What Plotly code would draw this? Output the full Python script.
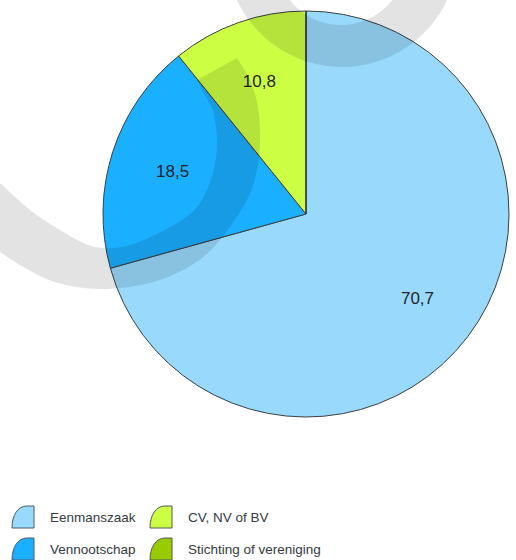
"""
Rechtsvorm — taartdiagram met watermerk en eigen legenda.
"""

import plotly.graph_objects as go

# ── Data ──────────────────────────────────────────────────────────────────
labels = ['Eenmanszaak', 'Vennootschap', 'CV, NV of BV', 'Stichting of vereniging']
values = [70.7, 18.5, 10.8, 0.0]
slice_text = [f'{v:.1f}'.replace('.', ',') if v > 0 else '' for v in values]

# ── Design tokens ─────────────────────────────────────────────────────────
C = {
    'slices': ['#99DAFC', '#1AB0FF', '#CCFF44', '#99CC00'],
    'edge': '#3a3f44',
    'legend_edge': '#4d5a66',
    'text': '#1e252b',
    'legend_text': '#333a40',
    'mark': 'rgba(0,0,0,0.11)',
}
FONT = 'Liberation Sans, Arial, sans-serif'

W, H = 516, 560
CX, CY, R = 306, 214, 203  # pie centre / radius in pixels


def domain(r):
    return dict(x=[(CX - r) / W, (CX + r) / W], y=[1 - (CY + r) / H, 1 - (CY - r) / H])


def smooth(pts):
    """Catmull-Rom through pts -> cubic bezier segments (no leading M)."""
    p = [pts[0]] + pts + [pts[-1]]
    out = []
    for i in range(1, len(p) - 2):
        p0, p1, p2, p3 = p[i - 1], p[i], p[i + 1], p[i + 2]
        c1 = (p1[0] + (p2[0] - p0[0]) / 6, p1[1] + (p2[1] - p0[1]) / 6)
        c2 = (p2[0] - (p3[0] - p1[0]) / 6, p2[1] - (p3[1] - p1[1]) / 6)
        out.append(f'C {c1[0]:.1f},{c1[1]:.1f} {c2[0]:.1f},{c2[1]:.1f} {p2[0]:.1f},{p2[1]:.1f}')
    return ' '.join(out)


def circle(cx, cy, r):
    k = 0.5523 * r
    return (f'M {cx + r},{cy} '
            f'C {cx + r},{cy + k} {cx + k},{cy + r} {cx},{cy + r} '
            f'C {cx - k},{cy + r} {cx - r},{cy + k} {cx - r},{cy} '
            f'C {cx - r},{cy - k} {cx - k},{cy - r} {cx},{cy - r} '
            f'C {cx + k},{cy - r} {cx + r},{cy - k} {cx + r},{cy} Z')


# watermark band on the left (outer edge, then inner edge back up)
outer = [(237, 58), (250, 80), (258, 107), (260, 140), (257, 170), (247, 200),
         (220, 240), (192, 265), (150, 283), (100, 289), (55, 282), (20, 265), (-10, 245)]
inner = [(-10, 174), (0, 183), (30, 210), (60, 230), (95, 247), (130, 245),
         (170, 227), (197, 207), (213, 173), (217, 140), (213, 110)]
band = (f'M {outer[0][0]},{outer[0][1]} ' + smooth(outer) +
        f' L {inner[0][0]},{inner[0][1]} ' + smooth(inner) + ' L 197,80 Z')

ring = circle(342, -49, 116) + ' ' + circle(341, -40, 65)

fig = go.Figure()

# slices
fig.add_trace(go.Pie(
    labels=labels,
    values=values,
    textinfo='none',
    marker=dict(colors=C['slices'], line=dict(color=C['edge'], width=1)),
    sort=False,
    direction='clockwise',
    rotation=0,
    showlegend=False,
    hoverinfo='label+value',
    domain=domain(R),
))

# value labels, placed around 0.7 R via a smaller transparent donut on top
fig.add_trace(go.Pie(
    labels=labels,
    values=values,
    text=slice_text,
    textinfo='text',
    textposition='inside',
    insidetextorientation='horizontal',
    textfont=dict(family=FONT, size=17, color=C['text']),
    marker=dict(colors=['rgba(0,0,0,0)'] * len(values), line=dict(width=0)),
    hole=0.5,
    sort=False,
    direction='clockwise',
    rotation=0,
    showlegend=False,
    hoverinfo='skip',
    domain=domain(R * 0.92),
))

shapes = [
    dict(type='path', path=band, xref='x', yref='y', fillcolor=C['mark'],
         line=dict(width=0), layer='above'),
    dict(type='path', path=ring, xref='x', yref='y', fillcolor=C['mark'],
         fillrule='evenodd', line=dict(width=0), layer='above'),
]

# ── Legend (quarter-pie symbols) ──────────────────────────────────────────
leg_x = [12, 150, 12, 150]
leg_y = [528, 528, 560, 560]   # bottom of symbol
order = [0, 2, 1, 3]           # column-wise: Eenmanszaak/Vennootschap | CV/Stichting
annotations = []
s = 22
for slot, idx in enumerate(order):
    x0, yb = leg_x[slot], leg_y[slot]
    path = (f'M {x0 + s},{yb} L {x0},{yb} '
            f'C {x0},{yb - 13} {x0 + 6},{yb - s} {x0 + 15},{yb - s} '
            f'L {x0 + s},{yb - s} Z')
    shapes.append(dict(type='path', path=path, xref='x', yref='y',
                       fillcolor=C['slices'][idx],
                       line=dict(color=C['legend_edge'], width=1)))
    annotations.append(dict(
        x=x0 + s + 14, y=yb - 11, xref='x', yref='y', text=labels[idx],
        showarrow=False, xanchor='left', yanchor='middle',
        font=dict(family=FONT, size=13.5, color=C['legend_text']),
    ))

fig.update_layout(
    width=W, height=H,
    margin=dict(l=0, r=0, t=0, b=0),
    paper_bgcolor='white',
    plot_bgcolor='rgba(0,0,0,0)',
    xaxis=dict(range=[0, W], visible=False, fixedrange=True),
    yaxis=dict(range=[H, 0], visible=False, fixedrange=True),
    shapes=shapes,
    annotations=annotations,
    showlegend=False,
)

fig.write_html('out.html', config={'displayModeBar': False},
               post_script="document.body.style.margin='0';")
